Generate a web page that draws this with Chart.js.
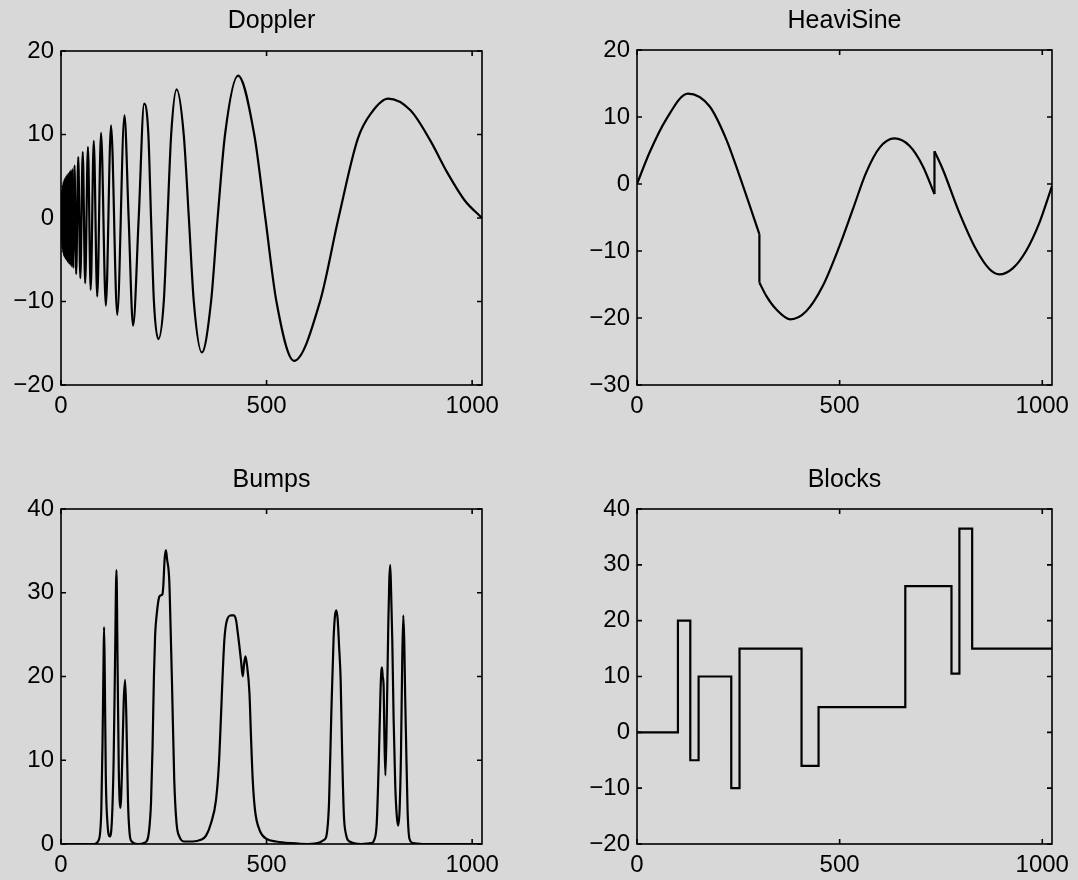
<!DOCTYPE html>
<html>
<head>
<meta charset="utf-8">
<script src="https://cdn.jsdelivr.net/npm/chart.js@4.4.0/dist/chart.umd.min.js"></script>
<style>
  html, body { margin: 0; padding: 0; background: #d7d8d7; }
  body { width: 1078px; height: 880px; position: relative; overflow: hidden; }
  canvas { position: absolute; }
</style>
</head>
<body>
<canvas id="doppler_chart" width="540" height="440" style="left:0px;top:0px"></canvas>
<canvas id="heavisine_chart" width="538" height="440" style="left:540px;top:0px"></canvas>
<canvas id="bumps_chart" width="540" height="440" style="left:0px;top:440px"></canvas>
<canvas id="blocks_chart" width="538" height="440" style="left:540px;top:440px"></canvas>
<script>
const FONT = "'Liberation Sans', Arial, Helvetica, sans-serif";

// shared x axis (sample index 0..1024)
const xTicks = [0, 500, 1000];

// Doppler: extrema / crossings
const dopplerX = [0, 0.8, 1.6, 2.5, 3.4, 4.4, 5.4, 6.5, 7.6, 8.8, 10, 11.3, 12.6, 14, 15.5, 17, 18.6, 20.3, 22, 23.8, 25.7,
    27.7, 29.8, 32.8, 36.9, 42, 47, 52.9, 58.8, 65.5, 72.2, 79.7, 88.1, 97.4, 109.1, 121.7, 136.8, 154.4, 164.5,
    175.4, 189, 202.3, 212.5, 219, 226, 236.7, 250, 259, 268, 281.2, 298.5, 311, 323, 342.5, 365, 381, 399,
    430.6, 470, 497, 524, 566.6, 630, 675, 722, 755, 795.7, 850, 898, 940, 982, 1024];
const dopplerY = [0, 2.6, -3.0, 3.4, -3.7, 4.0, -4.2, 4.4, -4.6, 4.7, -4.8, 4.9, -5.0, 5.1, -5.2, 5.3, -5.4, 5.5, -5.6, 5.7, -5.8,
    5.9, -6.0, 6.3, -6.7, 7.3, -7.2, 7.9, -7.8, 8.5, -8.6, 9.25, -9.4, 10.2, -10.5, 11.1, -11.6, 12.3, 0,
    -12.9, 0, 13.7, 10, 0, -10, -14.5, -10, 0, 10, 15.4, 10, 0, -10, -16.1, -10, 0, 10,
    17.05, 10, 0, -10, -17.1, -10, 0, 9.5, 12.6, 14.3, 12.9, 9.3, 5.4, 2.1, 0];
const dopplerTicks = [-20, -10, 0, 10, 20];

// HeaviSine: a repeated x marks a jump
const heaviX = [0, 31, 72, 125.7, 179, 220, 253, 302, 302, 319, 343.5, 379, 417.5, 458.6, 499.7, 532.5, 565.4, 598.3,
    635.3, 672.2, 705, 734, 734, 754.4, 795.5, 836.6, 869.5, 894, 927, 960, 992.8, 1024];
const heaviY = [0, 4.7, 9.65, 13.5, 11.6, 6.7, 1.2, -7.5, -14.7, -16.7, -18.7, -20.2, -19, -15.2, -9.25, -3.8, 1.7, 5.4,
    6.8, 5.7, 2.7, -1.5, 4.9, 2.2, -4.3, -9.75, -12.7, -13.5, -12.6, -10, -5.8, -0.3];
const heaviTicks = [-30, -20, -10, 0, 10, 20];

// Bumps
const bumpsX = [0, 80, 92, 98, 101, 103.5, 104.8, 106.5, 109, 113, 118.6, 124, 128, 131.5, 134.9, 137.5, 140.5, 144.6,
    149, 152.5, 156, 159, 163, 167, 172, 185, 205, 214, 219, 222.7, 226, 229, 233, 238.9, 243, 246.5, 248.7, 252,
    255.2, 258, 263.3, 266.5, 269.8, 275.5, 281, 287.7, 300, 320, 340, 352.8, 365, 377, 384, 389.4, 393, 397.4,
    403, 413.7, 420, 425.9, 430, 434, 438, 442.1, 445.5, 448.6, 452, 458.4, 462, 466.4, 472, 482.7, 500, 523.4,
    560, 600, 630, 640, 645.3, 652, 657.5, 663, 666.5, 669.7, 673, 676.5, 680.2, 684, 688, 693, 702, 730, 755,
    762, 768, 773, 777, 779, 780.6, 782.5, 784.8, 786.5, 789, 792, 796, 798.5, 800.8, 803, 805.8, 809, 813,
    816.5, 820, 823.5, 827, 830, 832.6, 835, 837, 839.3, 843, 847.7, 856, 880, 1024];
const bumpsY = [0, 0, 0.5, 4, 12, 22, 25.9, 20, 8, 2.5, 0.9, 3, 10, 22, 32.7, 22, 9, 4.3,
    10, 17, 19.6, 15, 5, 1.2, 0.3, 0, 0.2, 1.5, 5, 11.6, 20, 25, 27.5, 29.5, 29.7, 29.8, 30.7, 34,
    35.1, 34, 31.5, 26, 19.6, 7.6, 2.5, 0.9, 0.3, 0.3, 0.5, 1.0, 2.5, 5.25, 9.5, 15.6, 20, 24.4,
    26.6, 27.3, 27.3, 26.7, 25.2, 23.6, 21.8, 20.0, 21.6, 22.4, 21.5, 18, 13, 7.6, 4, 1.7, 0.6, 0.3,
    0.1, 0, 0.2, 0.5, 0.9, 5, 15.6, 24.5, 27.3, 27.9, 26.8, 23.5, 19.6, 10.5, 3.5, 1.2, 0.3, 0, 0.1,
    0.5, 2.5, 10, 18, 20.5, 21.1, 20, 18.7, 13, 8.2, 14, 26, 31.5, 33.3, 30, 24.3, 15, 7,
    3.5, 2.2, 4, 11, 22, 27.3, 24, 18, 12.4, 4, 0.6, 0.1, 0, 0];
const bumpsTicks = [0, 10, 20, 30, 40];

// Blocks: start of each level, last point closes the final level
const blocksX = [0, 101, 131.5, 152, 232.6, 253, 406, 448, 662, 776, 795.5, 827, 1024];
const blocksY = [0, 20, -5, 10, -10, 15, -6, 4.5, 26.2, 10.5, 36.5, 15, 15];
const blocksTicks = [-20, -10, 0, 10, 20, 30, 40];

/*
 * Draws the closed box and the inward tick marks on all four sides
 */
const framePlugin = {
    id: 'frame',
    afterDraw(chart) {
        const ctx = chart.ctx;
        const a = chart.chartArea;
        const sx = chart.scales.x;
        const sy = chart.scales.y;
        ctx.save();
        ctx.strokeStyle = '#000';
        ctx.lineWidth = 1.6;
        ctx.strokeRect(a.left, a.top, a.right - a.left, a.bottom - a.top);
        ctx.beginPath();
        sx.ticks.forEach(t => {
            const p = sx.getPixelForValue(t.value);
            ctx.moveTo(p, a.bottom); ctx.lineTo(p, a.bottom - 5);
            ctx.moveTo(p, a.top); ctx.lineTo(p, a.top + 5);
        });
        sy.ticks.forEach(t => {
            const p = sy.getPixelForValue(t.value);
            ctx.moveTo(a.left, p); ctx.lineTo(a.left + 5, p);
            ctx.moveTo(a.right, p); ctx.lineTo(a.right - 5, p);
        });
        ctx.stroke();
        ctx.restore();
    }
};

function toPoints(xs, ys) {
    return xs.map((x, i) => ({x: x, y: ys[i]}));
}

function lineSet(points, extra) {
    return Object.assign({
        data: points,
        borderColor: '#000',
        borderWidth: 2.2,
        pointRadius: 0,
        fill: false,
        cubicInterpolationMode: 'monotone',
    }, extra || {});
}

/*
 * Splits a series where x repeats: smooth pieces + straight vertical jumps
 */
function splitAtJumps(xs, ys) {
    const pieces = [[]];
    const jumps = [];
    for (let i = 0; i < xs.length; i++) {
        if (i > 0 && xs[i] === xs[i - 1]) {
            jumps.push({x: xs[i - 1], y: ys[i - 1]}, {x: xs[i], y: ys[i]}, {x: xs[i], y: null});
            pieces.push([]);
        }
        pieces[pieces.length - 1].push({x: xs[i], y: ys[i]});
    }
    const sets = pieces.map(p => lineSet(p));
    sets.push(lineSet(jumps, {cubicInterpolationMode: 'default', tension: 0, spanGaps: false}));
    return sets;
}

function createPanel(canvasId, title, datasets, yTicks, box) {
    const tickFont = {family: FONT, size: 24};
    const config = {
        type: 'line',
        data: {datasets: datasets},
        options: {
            responsive: false,
            animation: false,
            events: [],
            layout: {padding: {left: 0, right: box.padRight, top: 0, bottom: box.padBottom}},
            scales: {
                x: {
                    type: 'linear',
                    min: 0,
                    max: 1024,
                    afterBuildTicks: s => { s.ticks = xTicks.map(v => ({value: v})); },
                    afterFit: s => { s.height = box.xHeight; },
                    grid: {display: false, drawTicks: false},
                    border: {display: false},
                    ticks: {
                        color: '#000',
                        font: tickFont,
                        padding: 7,
                        maxRotation: 0,
                        autoSkip: false,
                        callback: v => String(v)
                    }
                },
                y: {
                    type: 'linear',
                    min: yTicks[0],
                    max: yTicks[yTicks.length - 1],
                    afterBuildTicks: s => { s.ticks = yTicks.map(v => ({value: v})); },
                    afterFit: s => { s.width = box.yWidth; },
                    grid: {display: false, drawTicks: false},
                    border: {display: false},
                    ticks: {
                        color: '#000',
                        font: tickFont,
                        padding: 7,
                        autoSkip: false,
                        callback: v => String(v).replace('-', '\u2212')
                    }
                }
            },
            plugins: {
                legend: {display: false},
                tooltip: {enabled: false},
                title: {
                    display: true,
                    text: title,
                    fullSize: false,
                    color: '#000',
                    font: {family: FONT, size: 25, weight: 'normal', lineHeight: 1.2},
                    padding: {top: box.titleTop, bottom: box.titleBottom}
                }
            }
        },
        plugins: [framePlugin]
    };
    return new Chart(document.getElementById(canvasId), config);
}

const leftBox = {yWidth: 61, padRight: 58};
const rightBox = {yWidth: 97, padRight: 26};

createPanel('doppler_chart', 'Doppler',
    [lineSet(toPoints(dopplerX, dopplerY))], dopplerTicks,
    Object.assign({titleTop: 6, titleBottom: 15, xHeight: 45, padBottom: 10}, leftBox));

createPanel('heavisine_chart', 'HeaviSine',
    splitAtJumps(heaviX, heaviY), heaviTicks,
    Object.assign({titleTop: 6, titleBottom: 14, xHeight: 45, padBottom: 10}, rightBox));

createPanel('bumps_chart', 'Bumps',
    [lineSet(toPoints(bumpsX, bumpsY))], bumpsTicks,
    Object.assign({titleTop: 25, titleBottom: 14, xHeight: 36, padBottom: 0}, leftBox));

createPanel('blocks_chart', 'Blocks',
    [lineSet(toPoints(blocksX, blocksY), {stepped: 'before', cubicInterpolationMode: 'default', tension: 0})], blocksTicks,
    Object.assign({titleTop: 25, titleBottom: 14, xHeight: 36, padBottom: 0}, rightBox));
</script>
</body>
</html>
